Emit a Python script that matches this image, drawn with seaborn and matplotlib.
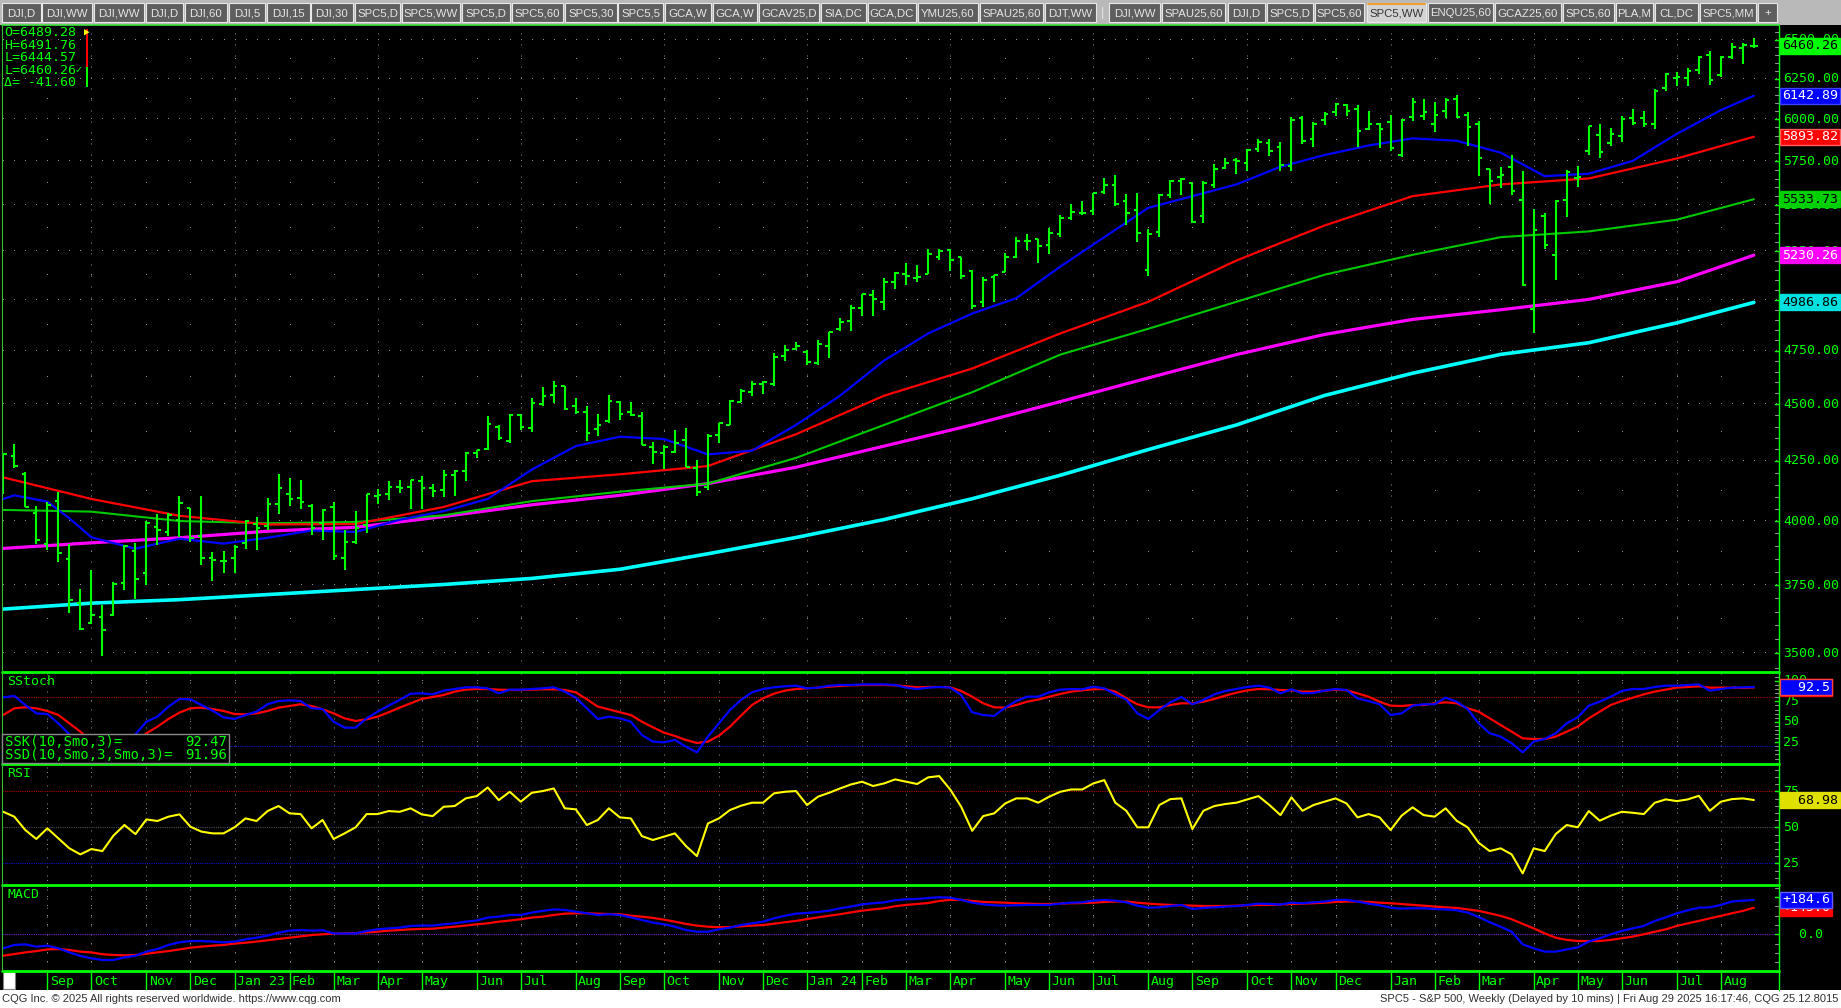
import numpy as np
import pandas as pd
import matplotlib
matplotlib.use("Agg")
import matplotlib.pyplot as plt
import matplotlib.transforms as mtransforms
from matplotlib.patches import Rectangle, Polygon
from matplotlib.lines import Line2D
import seaborn as sns

# ---------------- data (weekly S&P 500, week starting 2022-08-08) ----------------
first_week = "2022-08-08"

opens = [4140, 4269, 4195, 4034, 3910, 4083, 3849, 3682, 3609, 3630, 3638, 3758, 3882, 3797, 3977, 3956, 4006, 4053, 3939, 3853, 3843,
         3853, 3911, 3990, 3979, 4071, 4111, 4096, 4060, 3992, 4055, 3855, 3917, 3982, 4102, 4110, 4140, 4138, 4166, 4136, 4127,
         4191, 4205, 4282, 4300, 4396, 4337, 4450, 4394, 4502, 4543, 4584, 4492, 4464, 4389, 4426, 4510, 4464, 4445, 4310, 4284,
         4289, 4342, 4218, 4140, 4364, 4407, 4511, 4555, 4595, 4593, 4725, 4758,
         4745, 4690, 4772, 4853, 4892, 4957, 5026, 4989, 5093, 5132, 5112, 5132, 5219, 5258, 5218, 5149, 4988, 5115, 5142, 5221,
         5305, 5315, 5283, 5341, 5432, 5460, 5471, 5572, 5615, 5525, 5476, 5151, 5352, 5557, 5638, 5624, 5442, 5615, 5711, 5757,
         5737, 5820, 5857, 5833, 5725, 6008, 5878, 5992, 6040, 6083, 6063, 5940, 5970,
         5983, 5789, 6015, 6017, 5969, 6046, 6121, 6026, 5968, 5705, 5658, 5718, 5527, 4953, 5441, 5233, 5529, 5655, 5808, 5902,
         5854, 5897, 6004, 6004, 5970, 6193, 6255, 6255, 6305, 6398, 6271, 6389, 6445, 6457]
highs = [4280, 4325, 4204, 4062, 4076, 4119, 3907, 3736, 3807, 3675, 3762, 3905, 3912, 4001, 4028, 4034, 4101, 4053, 4101, 3877, 3879,
         3906, 4003, 4015, 4095, 4195, 4176, 4169, 4070, 4049, 4078, 3965, 4039, 4110, 4133, 4164, 4170, 4170, 4187, 4154, 4212,
         4213, 4290, 4299, 4448, 4409, 4458, 4456, 4528, 4578, 4607, 4584, 4528, 4490, 4458, 4541, 4514, 4511, 4465, 4334, 4318,
         4385, 4393, 4256, 4366, 4415, 4521, 4568, 4609, 4609, 4738, 4778, 4793,
         4755, 4802, 4842, 4907, 4975, 5030, 5048, 5111, 5141, 5190, 5180, 5262, 5265, 5264, 5223, 5150, 5114, 5128, 5240, 5325,
         5342, 5315, 5375, 5448, 5506, 5524, 5570, 5655, 5670, 5564, 5566, 5371, 5563, 5643, 5651, 5626, 5636, 5734, 5767, 5767,
         5823, 5879, 5878, 5863, 6012, 6018, 5985, 6045, 6099, 6089, 6085, 6050, 5978,
         6022, 6000, 6129, 6120, 6101, 6128, 6147, 6043, 5986, 5705, 5715, 5786, 5695, 5481, 5459, 5528, 5700, 5720, 5958, 5968,
         5944, 6017, 6059, 6051, 6187, 6284, 6290, 6316, 6395, 6427, 6395, 6481, 6478, 6508]
lows = [4112, 4218, 4057, 3907, 3886, 3838, 3647, 3584, 3604, 3492, 3635, 3733, 3698, 3751, 3906, 3939, 3935, 3918, 3827, 3765, 3795,
        3794, 3888, 3885, 3965, 4030, 4061, 4048, 3943, 3926, 3847, 3809, 3908, 3951, 4069, 4085, 4114, 4049, 4049, 4099, 4099,
        4103, 4166, 4261, 4298, 4341, 4328, 4385, 4377, 4490, 4507, 4474, 4457, 4335, 4356, 4414, 4430, 4447, 4317, 4238, 4216,
        4284, 4223, 4104, 4126, 4329, 4405, 4510, 4537, 4547, 4583, 4700, 4751,
        4682, 4682, 4714, 4845, 4845, 4918, 4920, 4947, 5057, 5076, 5091, 5130, 5203, 5146, 5107, 4954, 4964, 4990, 5142, 5217,
        5257, 5191, 5234, 5325, 5420, 5447, 5448, 5564, 5497, 5391, 5302, 5120, 5328, 5541, 5560, 5403, 5403, 5599, 5703, 5675,
        5693, 5804, 5783, 5696, 5696, 5853, 5831, 5967, 6016, 6017, 5832, 5932, 5829,
        5809, 5773, 5986, 5993, 5923, 6004, 6009, 5837, 5666, 5505, 5597, 5558, 5070, 4835, 5262, 5101, 5434, 5603, 5786, 5767,
        5840, 5861, 5963, 5952, 5943, 6174, 6202, 6201, 6282, 6212, 6259, 6374, 6344, 6444]
closes = [4280, 4228, 4058, 3924, 4067, 3873, 3693, 3586, 3640, 3583, 3752, 3901, 3771, 3993, 3965, 4026, 4072, 3934, 3852, 3845, 3840,
          3895, 3999, 3973, 4071, 4136, 4090, 4079, 3970, 4045, 3862, 3917, 3971, 4109, 4105, 4138, 4134, 4169, 4136, 4124, 4192,
          4205, 4282, 4299, 4410, 4348, 4450, 4399, 4505, 4536, 4582, 4478, 4464, 4370, 4406, 4515, 4457, 4450, 4320, 4288, 4309,
          4327, 4224, 4117, 4358, 4415, 4514, 4559, 4595, 4604, 4719, 4755, 4770,
          4697, 4784, 4840, 4891, 4959, 5027, 5006, 5089, 5137, 5124, 5117, 5234, 5254, 5204, 5123, 4967, 5100, 5128, 5223, 5303,
          5305, 5278, 5347, 5432, 5464, 5460, 5567, 5615, 5505, 5459, 5347, 5344, 5555, 5635, 5648, 5408, 5626, 5703, 5738, 5751,
          5815, 5865, 5808, 5729, 5996, 5871, 5969, 6032, 6090, 6051, 5931, 5971, 5942,
          5827, 5997, 6101, 6041, 6026, 6115, 6013, 5955, 5770, 5639, 5668, 5581, 5074, 5363, 5283, 5525, 5686, 5660, 5958, 5803,
          5912, 6000, 5977, 5968, 6173, 6280, 6260, 6297, 6389, 6238, 6389, 6450, 6467, 6460.26]

# moving averages at a subset of weeks
ma_weeks_slow = [0, 8, 16, 24, 32, 40, 48, 56, 64, 72, 80, 88, 96, 104, 112, 120, 128, 136, 144, 152, 159]
ma_cyan = [3660, 3682, 3695, 3714, 3733, 3752, 3775, 3810, 3870, 3934, 4006, 4091, 4189, 4299, 4407, 4540, 4643, 4732, 4788, 4885, 4986.86]
ma_magenta = [3891, 3913, 3933, 3959, 3975, 4018, 4066, 4105, 4154, 4223, 4314, 4407, 4512, 4621, 4731, 4828, 4902, 4950, 5002, 5092, 5230.26]
ma_green = [4045, 4038, 4000, 3991, 3996, 4023, 4081, 4120, 4154, 4263, 4407, 4555, 4731, 4856, 4990, 5128, 5232, 5326, 5357, 5421, 5533.73]
ma_red = [4180, 4090, 4021, 3986, 3988, 4057, 4164, 4193, 4228, 4366, 4539, 4665, 4833, 4990, 5202, 5389, 5551, 5617, 5651, 5766, 5893.82]
ma_weeks_fast = [0, 1, 4, 6, 8, 12, 16, 20, 24, 28, 32, 36, 40, 44, 48, 52, 56, 60, 64, 68, 72, 76, 80, 84, 88, 92, 96, 100,
                 104, 108, 112, 116, 120, 124, 128, 132, 136, 140, 144, 148, 152, 156, 159]
ma_blue = [4090, 4105, 4079, 4011, 3935, 3890, 3929, 3910, 3933, 3962, 3956, 4005, 4040, 4090, 4213, 4314, 4355, 4345, 4278,
           4294, 4407, 4539, 4703, 4833, 4931, 5008, 5170, 5326, 5486, 5551, 5617, 5718, 5786, 5842, 5884, 5870, 5800, 5664,
           5678, 5752, 5911, 6054, 6142.89]

stoch_k = [79.9, 81.6, 70.5, 60.3, 59.5, 48.1, 34.6, 22, 12, 6, 8, 18, 34.6, 50.1, 56.3, 68.5, 77.9, 77.5, 70.5, 63.6,
           55.4, 53.4, 58.3, 62.4, 71.4, 75.4, 76.3, 75.4, 66.5, 65.6, 50.1, 42.8, 42.8, 54.2, 62.4, 69.7, 76.7, 84.4, 84.8, 83.6,
           88.1, 90.1, 92.2, 92.2, 90.9, 84.8, 89.3, 89.3, 90.1, 90.9, 92.2, 86.9, 79.5, 66.5, 53.4, 56.3, 54.2, 50.1, 33.8, 25.7,
           24.8, 27.7, 19.5, 12.6, 31.8, 48.1, 64.4, 76.7, 86.0, 90.1, 92.2, 93.4, 94.2, 90.9, 91.8, 94.2, 95.0, 95.0, 95.8, 95.8,
           95.8, 95.0, 91.8, 90.1, 91.8, 92.6, 91.8, 82.8, 61.6, 58.3, 57.1, 67.3, 75.4, 80.7, 80.7, 86.0, 89.3, 90.1, 89.7, 93.0,
           90.9, 83.6, 77.1, 60.3, 53.4, 64.4, 73.8, 80.3, 71.4, 76.7, 83.6, 87.7, 90.1, 92.6, 94.2, 91.8, 84.8, 89.7, 84.8, 85.2,
           88.1, 90.1, 88.9, 78.7, 75.4, 71.4, 58.3, 60.3, 69.7, 71.4, 71.4, 79.5, 74.6, 65.6, 48.1, 35.9, 31.8, 23.6, 12.6, 25.7,
           28.9, 35.9, 48.1, 55.4, 69.7, 74.6, 80.7, 87.7, 90.1, 90.1, 92.6, 94.2, 94.2, 95.0, 95.8, 88.1, 90.1, 91.8, 92.2, 92.47]
stoch_d = [58.3, 66.5, 67.7, 66.5, 63.2, 58.3, 48.1, 37.9, 25, 15, 10, 12, 24, 35.9, 44.0, 53.4, 61.2, 66.5, 67.3, 65.6,
           63.2, 59.5, 59.1, 60.3, 63.2, 67.3, 69.3, 71.4, 69.3, 65.2, 60.3, 54.2, 51.0, 53.0, 56.3, 61.6, 67.3, 72.6, 77.9, 80.3,
           82.8, 86.9, 89.3, 90.1, 90.1, 89.3, 88.9, 88.9, 89.3, 89.7, 89.7, 88.9, 86.0, 77.5, 68.5, 65.2, 61.6, 58.3, 50.1, 43.2,
           36.7, 32.6, 27.7, 24.0, 25.7, 33.0, 44.0, 57.5, 70.5, 78.7, 84.4, 88.1, 90.1, 90.9, 91.8, 93.0, 93.8, 94.6, 95.0, 95.0,
           95.0, 94.6, 93.4, 92.2, 92.6, 92.6, 92.2, 87.7, 80.7, 72.6, 67.7, 67.3, 70.5, 74.6, 77.1, 80.7, 84.0, 86.9, 88.5, 89.7,
           90.1, 86.9, 78.7, 71.4, 67.7, 67.7, 70.5, 72.6, 72.6, 74.6, 77.9, 82.0, 85.6, 88.5, 90.1, 89.7, 88.9, 88.5, 86.9, 86.9,
           88.1, 89.3, 88.5, 84.8, 80.7, 74.6, 69.7, 69.3, 70.5, 70.5, 72.6, 73.8, 72.6, 66.5, 62.4, 54.2, 46.1, 37.9, 29.7, 28.9,
           28.9, 31.8, 37.9, 44.0, 54.2, 62.4, 70.5, 75.4, 79.5, 83.6, 86.9, 89.3, 91.8, 92.6, 93.4, 91.8, 91.8, 91.8, 91.4, 91.96]
rsi = [60.8, 57.4, 48.1, 41.9, 49.3, 42.3, 35.4, 31.2, 34.9, 33.5, 44.2, 51.6, 45.3, 55.5, 54.4, 57.4, 59.0, 50.4, 47.0, 45.8,
       45.8, 50.0, 56.2, 54.4, 61.3, 64.8, 59.7, 59.2, 49.3, 55.1, 41.9, 45.8, 50.0, 59.2, 59.2, 61.3, 60.8, 63.2, 59.0, 57.8,
       64.3, 64.8, 70.1, 71.7, 77.7, 68.9, 74.7, 67.8, 74.0, 75.2, 77.0, 63.2, 62.5, 51.6, 55.1, 63.2, 56.9, 56.2, 43.9, 41.2,
       43.5, 45.8, 37.0, 30.0, 52.7, 56.2, 62.0, 65.0, 67.1, 67.1, 73.6, 74.7, 75.2, 65.5, 71.3, 74.0, 77.0, 79.8, 81.7, 78.7,
       80.5, 83.3, 81.7, 80.1, 84.7, 85.6, 76.3, 64.3, 47.6, 57.8, 59.7, 66.6, 70.1, 70.1, 67.1, 71.3, 74.7, 76.3, 76.3, 80.5,
       82.8, 67.1, 61.5, 50.0, 50.0, 65.5, 69.6, 70.1, 48.8, 61.5, 64.8, 66.2, 67.1, 69.4, 71.7, 65.5, 58.5, 70.8, 61.5, 65.5,
       67.8, 70.1, 66.6, 56.9, 59.2, 56.9, 48.1, 58.1, 63.9, 58.5, 57.4, 63.2, 54.6, 50.0, 39.3, 33.5, 35.4, 31.2, 18.0, 35.4,
       33.5, 45.3, 51.6, 50.0, 61.3, 54.6, 58.1, 60.8, 60.1, 59.2, 67.1, 69.4, 68.2, 69.4, 71.9, 61.5, 67.8, 69.6, 70.1, 68.98]
macd_line = [-75, -57, -54, -66, -61, -75, -97, -116, -129, -138, -138, -124, -115, -93, -79, -57, -43, -36, -36, -39,
             -43, -39, -27, -18, -7, 9, 20, 23, 20, 22, 5, 4, 5, 18, 27, 32, 36, 45, 47, 47,
             54, 59, 68, 74, 90, 95, 104, 104, 117, 126, 134, 131, 122, 113, 104, 108, 104, 91, 77, 63,
             54, 41, 23, 14, 14, 27, 36, 50, 59, 68, 86, 100, 111, 115, 120, 127, 140, 149, 161, 167,
             172, 183, 188, 190, 195, 199, 197, 185, 170, 161, 156, 154, 156, 158, 158, 158, 165, 170, 172, 181,
             185, 181, 172, 154, 143, 145, 152, 158, 136, 142, 145, 149, 152, 158, 165, 163, 160, 170, 167, 172,
             176, 185, 185, 176, 165, 156, 143, 138, 140, 140, 136, 134, 129, 117, 93, 65, 41, 14, -54, -75,
             -93, -93, -81, -70, -39, -21, 0, 18, 32, 45, 72, 91, 113, 129, 143, 145, 158, 176, 181, 184.6]
macd_signal = [-115, -106, -97, -90, -81, -79, -84, -93, -97, -107, -111, -113, -111, -104, -97, -90, -81, -72, -66, -61,
               -57, -50, -45, -39, -32, -25, -18, -11, -4, 0, 4, 5, 7, 11, 14, 20, 23, 27, 29, 30,
               36, 41, 47, 54, 59, 68, 74, 81, 90, 95, 104, 111, 113, 113, 111, 109, 108, 100, 95, 88,
               79, 68, 56, 47, 41, 38, 39, 43, 47, 50, 57, 65, 72, 82, 91, 100, 108, 118, 127, 134,
               140, 151, 158, 163, 168, 179, 185, 185, 179, 174, 172, 170, 167, 165, 163, 163, 165, 167, 168, 170,
               174, 176, 176, 170, 165, 161, 158, 156, 154, 152, 152, 152, 154, 156, 158, 158, 160, 163, 165, 167,
               170, 174, 176, 176, 174, 170, 167, 163, 158, 154, 149, 145, 142, 134, 126, 113, 99, 81, 56, 32,
               5, -18, -30, -36, -36, -36, -30, -21, -12, 0, 14, 27, 45, 59, 72, 86, 99, 113, 126, 143.0]

month_labels = ["Sep", "Oct", "Nov", "Dec",
                "Jan 23", "Feb", "Mar", "Apr", "May", "Jun", "Jul", "Aug", "Sep", "Oct", "Nov", "Dec",
                "Jan 24", "Feb", "Mar", "Apr", "May", "Jun", "Jul", "Aug", "Sep", "Oct", "Nov", "Dec",
                "Jan", "Feb", "Mar", "Apr", "May", "Jun", "Jul", "Aug"]
price_levels = [3500, 3750, 4000, 4250, 4500, 4750, 5000, 5250, 5500, 5750, 6000, 6250, 6500]
quote_lines = ["O=6489.28", "H=6491.76", "L=6444.57", "L=6460.26", "\u0394= -41.60"]

tab_names = ["DJI,D", "DJI,WW", "DJI,WW", "DJI,D", "DJI,60", "DJI,5", "DJI,15", "DJI,30", "SPC5,D", "SPC5,WW", "SPC5,D",
             "SPC5,60", "SPC5,30", "SPC5,5", "GCA,W", "GCA,W", "GCAV25,D", "SIA,DC", "GCA,DC", "YMU25,60", "SPAU25,60",
             "DJT,WW", "DJI,WW", "SPAU25,60", "DJI,D", "SPC5,D", "SPC5,60", "SPC5,WW", "ENQU25,60", "GCAZ25,60", "SPC5,60",
             "PLA,M", "CL,DC", "SPC5,MM", "+"]
# tab edges in pixels (layout)
tab_edges = [(2, 41), (42, 92), (94, 144), (146, 183), (185, 227), (229, 265), (267, 310), (311, 353), (355, 400),
             (402, 460), (462, 510), (512, 563), (565, 617), (618, 663), (665, 711), (713, 757), (759, 819), (821, 866),
             (868, 916), (918, 978), (980, 1043), (1045, 1096), (1109, 1160), (1162, 1225), (1228, 1265), (1267, 1313),
             (1315, 1364), (1367, 1426), (1428, 1493), (1495, 1561), (1563, 1614), (1616, 1653), (1655, 1698),
             (1700, 1756), (1758, 1777)]
selected_tab = 27

# ---------------- layout ----------------
W, H = 1841, 1008
X0, DX = 3.3, 11.01          # pixel of the first bar and bar spacing
LEFT, RIGHT = 2, 1779
Y_TOP, Y_STOCH, Y_RSI, Y_MACD, Y_DATE, Y_FOOT = 25, 671.7, 763.7, 885, 971, 990
LIME = "#00ff00"
GRID = "#8c8c8c"
MONO = ["DejaVu Sans Mono", "DejaVu Sans"]
SANS = ["Liberation Sans", "DejaVu Sans"]

sns.set_style("dark", {"axes.facecolor": "black"})
plt.rcParams["font.family"] = MONO

n = len(closes)
x = np.arange(n)
dates = pd.date_range(first_week, periods=n, freq="W-MON")
month_ticks = [i for i in range(1, n) if dates[i].month != dates[i - 1].month]
quarter_ticks = [i for i in month_ticks if dates[i].month in (1, 4, 7, 10)]
xlim = ((LEFT - X0) / DX, (RIGHT - X0) / DX)

fig = plt.figure(figsize=(W / 100, H / 100), dpi=100, facecolor="white")


def fx(px):
    return px / W


def fy(py):
    return 1 - py / H


def prect(x0, y0, x1, y1, **kw):
    r = Rectangle((fx(x0), fy(y1)), (x1 - x0) / W, (y1 - y0) / H, transform=fig.transFigure, **kw)
    fig.add_artist(r)
    return r


def pline(xs, ys, **kw):
    fig.add_artist(Line2D([fx(v) for v in xs], [fy(v) for v in ys], transform=fig.transFigure, **kw))


def panel(y0, y1):
    ax = fig.add_axes([fx(LEFT), fy(y1), (RIGHT - LEFT) / W, (y1 - y0) / H])
    ax.set_facecolor("black")
    for s in ax.spines.values():
        s.set_visible(False)
    ax.set_xlim(*xlim)
    return ax


def clean(ax):
    ax.set_xlabel("")
    ax.set_ylabel("")
    ax.tick_params(which="both", left=False, bottom=False, labelleft=False, labelbottom=False)
    ax.grid(False)


# backgrounds
prect(0, 0, W, 25, facecolor="#b9b9b9", edgecolor="none", zorder=0)
prect(0, 25, W, Y_FOOT, facecolor="black", edgecolor="none", zorder=0)

# tabs
for k, (name, (a, b)) in enumerate(zip(tab_names, tab_edges)):
    sel = k == selected_tab
    prect(a, 3, b, 22, facecolor="#d2d2d2" if sel else "#5e5e5e", edgecolor="#e8e8e8", linewidth=0.8, zorder=1)
    if sel:
        pline([a + 1, b - 1], [3.5, 3.5], color="#f0a030", lw=1.5, zorder=2)
    fig.text(fx((a + b) / 2), fy(13), name, ha="center", va="center", fontsize=8.2,
             color="#333333" if sel else "#e6e6e6", family=SANS, zorder=3)
fig.text(fx(1103), fy(13), "|", ha="center", va="center", fontsize=9, color="#e6e6e6", family=SANS)

# ---------------- price panel ----------------
ax_p = panel(Y_TOP, Y_STOCH)
ax_p.set_yscale("log")
ax_p.set_ylim(3436, 6597)

for lvl in price_levels:
    ax_p.plot(np.arange(0, 162), [lvl] * 162, ",", color=GRID, zorder=1)
for k in range(len(price_levels) - 1):
    mid = (price_levels[k] + price_levels[k + 1]) / 2
    ax_p.plot(month_ticks, [mid] * len(month_ticks), ",", color=GRID, zorder=1)
for q in quarter_ticks:
    ax_p.axvline(q, color=GRID, lw=0.72, ls=(0, (1, 10)), zorder=1)

sns.lineplot(x=ma_weeks_slow, y=ma_cyan, ax=ax_p, color="#00ffff", lw=2.6, legend=False, zorder=3)
sns.lineplot(x=ma_weeks_slow, y=ma_magenta, ax=ax_p, color="#ff00ff", lw=2.3, legend=False, zorder=3)
sns.lineplot(x=ma_weeks_slow, y=ma_green, ax=ax_p, color="#00c800", lw=1.5, legend=False, zorder=3)
sns.lineplot(x=ma_weeks_slow, y=ma_red, ax=ax_p, color="#ff0000", lw=1.6, legend=False, zorder=3)
sns.lineplot(x=ma_weeks_fast, y=ma_blue, ax=ax_p, color="#0000ff", lw=1.6, legend=False, zorder=3)

bw = 0.33
ax_p.vlines(x, lows, highs, color=LIME, lw=1.5, zorder=5)
ax_p.hlines(opens, x - bw, x, color=LIME, lw=1.5, zorder=5)
ax_p.hlines(closes, x, x + bw, color=LIME, lw=1.5, zorder=5)
clean(ax_p)
ax_p.yaxis.set_minor_locator(matplotlib.ticker.NullLocator())

# ---------------- indicator panels ----------------
ax_s = panel(Y_STOCH, Y_RSI)
ax_s.set_ylim(-1.35, 111.3)
ax_r = panel(Y_RSI, Y_MACD)
ax_r.set_ylim(9.93, 94.2)
ax_m = panel(Y_MACD, Y_DATE)
ax_m.set_ylim(-197, 265)

for ax, rows in ((ax_s, [0, 25, 50, 75, 100]), (ax_r, [12.5, 37.5, 62.5, 87.5]), (ax_m, [-150, -100, -50, 50, 100, 150, 200, 250])):
    for m in month_ticks:
        ax.axvline(m, color=GRID, lw=0.72, ls=(0, (1, 8)), zorder=1)
    for r in rows:
        ax.plot(month_ticks, [r] * len(month_ticks), ",", color=GRID, zorder=1)

ax_s.axhline(80, color="#b00000", lw=0.8, ls=(0, (1, 1)), zorder=2)
ax_s.axhline(20, color="#1010d0", lw=0.8, ls=(0, (1, 1)), zorder=2)
sns.lineplot(x=x, y=stoch_d, ax=ax_s, color="#ff0000", lw=1.6, legend=False, zorder=3)
sns.lineplot(x=x, y=stoch_k, ax=ax_s, color="#0000ff", lw=1.6, legend=False, zorder=4)
clean(ax_s)

ax_r.axhline(75, color="#b00000", lw=0.8, ls=(0, (1, 1)), zorder=2)
ax_r.axhline(50, color="#505050", lw=0.8, ls=(0, (1, 1)), zorder=2)
ax_r.axhline(25, color="#1010d0", lw=0.8, ls=(0, (1, 1)), zorder=2)
sns.lineplot(x=x, y=rsi, ax=ax_r, color="#ffff00", lw=1.5, legend=False, zorder=3)
clean(ax_r)

ax_m.axhline(0, color="#7a20d0", lw=0.8, ls=(0, (1, 1)), zorder=2)
sns.lineplot(x=x, y=macd_signal, ax=ax_m, color="#ff0000", lw=1.6, legend=False, zorder=3)
sns.lineplot(x=x, y=macd_line, ax=ax_m, color="#0000ff", lw=1.6, legend=False, zorder=4)
clean(ax_m)

# ---------------- date strip ----------------
ax_d = panel(Y_DATE, Y_FOOT)
ax_d.set_ylim(0, 1)
clean(ax_d)
tr_d = mtransforms.blended_transform_factory(ax_d.transData, ax_d.transAxes)
for m, lab in zip(month_ticks, month_labels):
    ax_d.axvline(m, color=LIME, lw=1.0)
    ax_d.text(m + 0.22, 0.45, lab, transform=tr_d, color=LIME, fontsize=9.5, va="center", ha="left")
prect(3, 972, 15, 989, facecolor="white", edgecolor="#808080", lw=0.8, zorder=6)

# panel frames
for yy in (Y_STOCH, Y_RSI, Y_MACD, Y_DATE):
    pline([LEFT, RIGHT], [yy, yy], color=LIME, lw=2.0, zorder=7)
pline([LEFT, RIGHT], [Y_TOP, Y_TOP], color="#40e040", lw=1.2, zorder=7)
pline([RIGHT, RIGHT], [Y_TOP, Y_FOOT], color=LIME, lw=1.0, zorder=7)
pline([LEFT, LEFT], [Y_TOP, Y_DATE], color="#30c030", lw=0.8, zorder=7)

# ---------------- right axis labels ----------------
LX = fx(1783)


def axis_labels(ax, values, fmt, minor):
    tr = mtransforms.blended_transform_factory(fig.transFigure, ax.transData)
    lo, hi = ax.get_ylim()
    for v in minor:
        if lo < v < hi:
            ax.plot([xlim[1] - 0.4, xlim[1]], [v, v], color="#909090", lw=0.8, clip_on=False, zorder=8)
    for v in values:
        if lo < v < hi:
            fig.text(LX, v, fmt.format(v), transform=tr, color=LIME, fontsize=9.5, va="center", ha="left", zorder=8)
            ax.plot([xlim[1] - 0.4, xlim[1]], [v, v], color=LIME, lw=1.0, clip_on=False, zorder=8)
    return tr


def tag(tr, v, text, fc, tc, ec=None, z=10):
    fig.text(fx(1782), v, text, transform=tr, color=tc, fontsize=9.5, va="center", ha="left", zorder=z,
             bbox=dict(boxstyle="square,pad=0.12", fc=fc, ec=ec or fc, lw=1.0))


price_minor = list(range(3450, 6600, 50))
tr_p = axis_labels(ax_p, price_levels, "{:.2f}", price_minor)
tag(tr_p, closes[-1], "{:.2f}".format(closes[-1]), LIME, "black")
tag(tr_p, ma_blue[-1], "{:.2f}".format(ma_blue[-1]), "#0000ff", "white", "#4040ff")
tag(tr_p, ma_red[-1], "{:.2f}".format(ma_red[-1]), "#ff0000", "white", "#ff6060")
tag(tr_p, ma_green[-1], "{:.2f}".format(ma_green[-1]), "#00d000", "black")
tag(tr_p, ma_magenta[-1], "{:.2f}".format(ma_magenta[-1]), "#ff00ff", "white")
tag(tr_p, ma_cyan[-1], "{:.2f}".format(ma_cyan[-1]), "#00e0e0", "black")

tr_s = axis_labels(ax_s, [25, 50, 75, 100], "{:.0f}", list(range(5, 110, 5)))
tag(tr_s, stoch_d[-1], "{:>6.1f}".format(stoch_d[-1]), "#ff0000", "white", z=10)
tag(tr_s, stoch_k[-1], "{:>6.1f}".format(stoch_k[-1]), "#0000ff", "white", "#ff4040", z=11)

tr_r = axis_labels(ax_r, [25, 50, 75], "{:.0f}", list(range(15, 95, 5)))
tag(tr_r, rsi[-1], "{:>7.2f}".format(rsi[-1]), "#e0e000", "black")

tr_m = axis_labels(ax_m, [0, 200], "{:>5.1f}", list(range(-150, 260, 50)))
tag(tr_m, macd_signal[-1], "{:+.1f}".format(macd_signal[-1]), "#ff0000", "white", z=10)
tag(tr_m, macd_line[-1], "{:+.1f}".format(macd_line[-1]), "#0000ff", "white", "#6060ff", z=11)

# ---------------- in-panel texts ----------------
for k, line in enumerate(quote_lines):
    fig.text(fx(4.5), fy(32.5 + 12.6 * k), line, color=LIME, fontsize=9.5, va="center", ha="left", zorder=9)
fig.text(fx(75), fy(70), "\u2713", color=LIME, fontsize=7, va="center", ha="left", family=["DejaVu Sans"], zorder=9)
prect(85.5, 29, 88, 67, facecolor="#ff0000", edgecolor="none", zorder=9)
prect(85.5, 67, 88, 87, facecolor=LIME, edgecolor="none", zorder=9)
fig.add_artist(Polygon([[fx(84), fy(29)], [fx(84), fy(35.5)], [fx(89.5), fy(32.2)]], closed=True,
                       facecolor="#ffff00", edgecolor="none", transform=fig.transFigure, zorder=10))

fig.text(fx(7), fy(681.5), "SStoch", color=LIME, fontsize=9.5, va="center", ha="left", zorder=9)
fig.text(fx(7), fy(773.5), "RSI", color=LIME, fontsize=9.5, va="center", ha="left", zorder=9)
fig.text(fx(7), fy(894.5), "MACD", color=LIME, fontsize=9.5, va="center", ha="left", zorder=9)

prect(2, 734, 229, 763.3, facecolor="black", edgecolor="#8a8a8a", lw=1.0, zorder=9)
fig.text(fx(4.5), fy(741.5), "SSK(10,Smo,3)=", color=LIME, fontsize=10, va="center", ha="left", zorder=10)
fig.text(fx(227), fy(741.5), "{:.2f}".format(stoch_k[-1]), color=LIME, fontsize=10, va="center", ha="right", zorder=10)
fig.text(fx(4.5), fy(754.8), "SSD(10,Smo,3,Smo,3)=", color=LIME, fontsize=10, va="center", ha="left", zorder=10)
fig.text(fx(227), fy(754.8), "{:.2f}".format(stoch_d[-1]), color=LIME, fontsize=10, va="center", ha="right", zorder=10)

# ---------------- footer ----------------
fig.text(fx(2), fy(999.5), "CQG Inc. \u00a9 2025 All rights reserved worldwide. https://www.cqg.com", color="#303030",
         fontsize=8, va="center", ha="left", family=SANS)
fig.text(fx(1838), fy(999.5), "SPC5 - S&P 500, Weekly (Delayed by 10 mins) | Fri Aug 29 2025 16:17:46, CQG 25.12.8015",
         color="#303030", fontsize=8, va="center", ha="right", family=SANS)

fig.savefig("out.png", dpi=100, facecolor=fig.get_facecolor())
